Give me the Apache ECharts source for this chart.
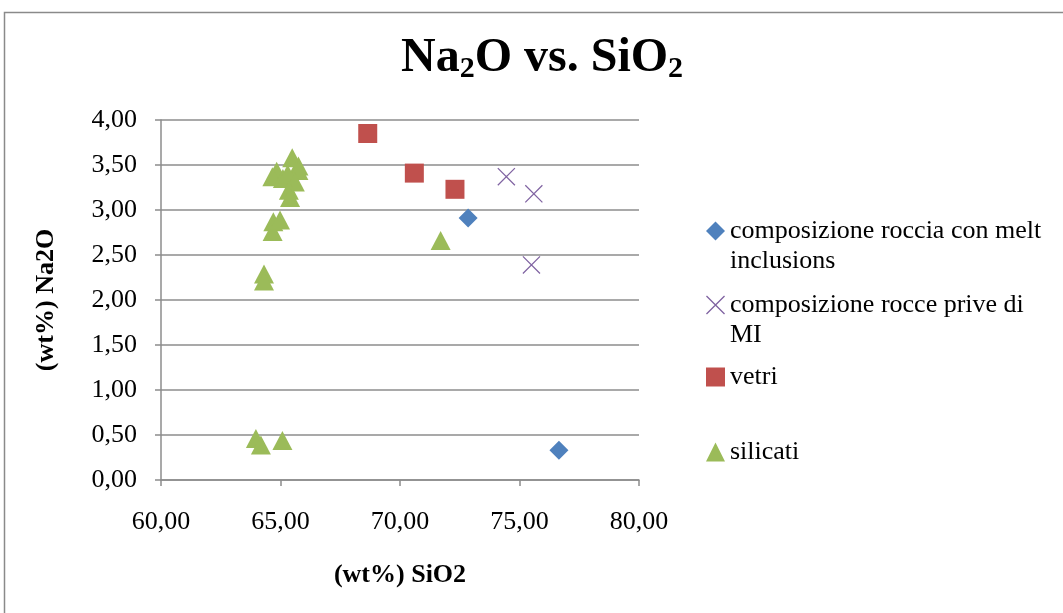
<!DOCTYPE html>
<html>
<head>
<meta charset="utf-8">
<script src="https://cdn.jsdelivr.net/npm/echarts@6/dist/echarts.min.js"></script>
<style>
  html, body { margin: 0; padding: 0; background: #fff; }
  #chart { width: 1063px; height: 613px; }
</style>
</head>
<body>
<div id="chart"></div>
<script>
// Na2O vs SiO2 (wt%) for rocks, glasses and silicate phases
const xTicks = ['60,00', '65,00', '70,00', '75,00', '80,00'];
const yTicks = ['0,00', '0,50', '1,00', '1,50', '2,00', '2,50', '3,00', '3,50', '4,00'];

const seriesNames = [
  'composizione roccia con melt inclusions',
  'composizione rocce prive di MI',
  'vetri',
  'silicati'
];
// wrapped legend text; the leading empty line keeps the first text line level with the icon
const legendLabels = [
  '\ncomposizione roccia con melt\ninclusions',
  '\ncomposizione rocce prive di\nMI',
  'vetri',
  'silicati'
];

// [SiO2, Na2O]
const rocciaMelt = [[72.85, 2.91], [76.65, 0.33]];
const roccePrive = [[74.45, 3.37], [75.6, 3.18], [75.5, 2.39]];
const vetri = [[68.65, 3.85], [70.6, 3.41], [72.3, 3.23]];
const silicati = [
  [71.7, 2.66],
  [63.97, 0.46], [64.18, 0.39], [65.08, 0.44],
  [64.31, 2.29], [64.31, 2.21],
  [64.67, 2.76], [64.7, 2.87], [64.98, 2.89],
  [65.49, 3.58], [65.75, 3.49], [65.75, 3.44], [64.84, 3.43], [64.66, 3.37],
  [65.1, 3.35], [65.3, 3.40], [65.6, 3.31], [65.35, 3.22], [65.4, 3.14]
];

const colors = ['#4F81BD', '#8064A2', '#C0504D', '#9BBB59'];
const crossPath = 'path://M0,0.5L0.5,0L10,9.5L9.5,10Z M9.5,0L10,0.5L0.5,10L0,9.5Z';
const symbols = ['diamond', crossPath, 'rect', 'triangle'];
const symbolSizes = [19, 18, 19, [20, 19]];
const seriesData = [rocciaMelt, roccePrive, vetri, silicati];

const FONT = '"Liberation Serif", "Times New Roman", serif';
const GRID_COLOR = '#8c8c8c';

const chart = echarts.init(document.getElementById('chart'));

// one legend block per entry so each one gets its own fixed slot
const legendTops = [186, 260, 362, 437];
const lineH = 30;
const legends = seriesNames.map((name, i) => ({
  data: [name],
  orient: 'vertical',
  left: 706,
  top: legendTops[i],
  padding: 0,
  itemWidth: 19,
  itemHeight: 19,
  itemGap: 0,
  selectedMode: false,
  formatter: () => legendLabels[i],
  textStyle: {
    fontFamily: FONT,
    fontSize: 26,
    color: '#000',
    lineHeight: lineH
  }
}));

const option = {
  animation: false,
  backgroundColor: '#fff',
  color: colors,
  title: {
    text: '{a|Na}{s|2}{a|O vs. SiO}{s|2}',
    left: 401,
    top: 34,
    padding: 0,
    textStyle: {
      rich: {
        a: { fontFamily: FONT, fontWeight: 'bold', fontSize: 48, color: '#000', lineHeight: 50 },
        s: { fontFamily: FONT, fontWeight: 'bold', fontSize: 30, color: '#000', lineHeight: 38, verticalAlign: 'bottom' }
      }
    }
  },
  legend: legends,
  grid: { left: 161, right: 424, top: 120, bottom: 133, containLabel: false },
  xAxis: {
    type: 'value',
    min: 60,
    max: 80,
    interval: 5,
    name: '(wt%) SiO2',
    nameLocation: 'middle',
    nameGap: 82,
    nameTextStyle: { fontFamily: FONT, fontWeight: 'bold', fontSize: 26, color: '#000' },
    axisLine: { show: true, lineStyle: { color: GRID_COLOR, width: 1.5 } },
    axisTick: { show: true, length: 6, lineStyle: { color: GRID_COLOR, width: 1.5 } },
    splitLine: { show: false },
    axisLabel: {
      fontFamily: FONT, fontSize: 26, color: '#000', margin: 29,
      formatter: (v) => xTicks[Math.round((v - 60) / 5)]
    }
  },
  yAxis: {
    type: 'value',
    min: 0,
    max: 4,
    interval: 0.5,
    name: '(wt%) Na2O',
    nameLocation: 'middle',
    nameGap: 102,
    nameRotate: 90,
    nameTextStyle: { fontFamily: FONT, fontWeight: 'bold', fontSize: 26, color: '#000' },
    axisLine: { show: true, lineStyle: { color: GRID_COLOR, width: 1.5 } },
    axisTick: { show: true, length: 6, lineStyle: { color: GRID_COLOR, width: 1.5 } },
    splitLine: { show: true, lineStyle: { color: GRID_COLOR, width: 1.5 } },
    axisLabel: {
      fontFamily: FONT, fontSize: 26, color: '#000', margin: 24,
      formatter: (v) => yTicks[Math.round(v / 0.5)]
    }
  },
  graphic: [{
    type: 'polyline',
    shape: { points: [[4.5, 613], [4.5, 12.5], [1063, 12.5]] },
    style: { stroke: '#8a8a8a', lineWidth: 1.5, fill: null },
    silent: true
  }],
  series: seriesNames.map((name, i) => ({
    name,
    type: 'scatter',
    data: seriesData[i],
    symbol: symbols[i],
    symbolSize: symbolSizes[i],
    itemStyle: { color: colors[i], opacity: 1 }
  }))
};

chart.setOption(option);
</script>
</body>
</html>
